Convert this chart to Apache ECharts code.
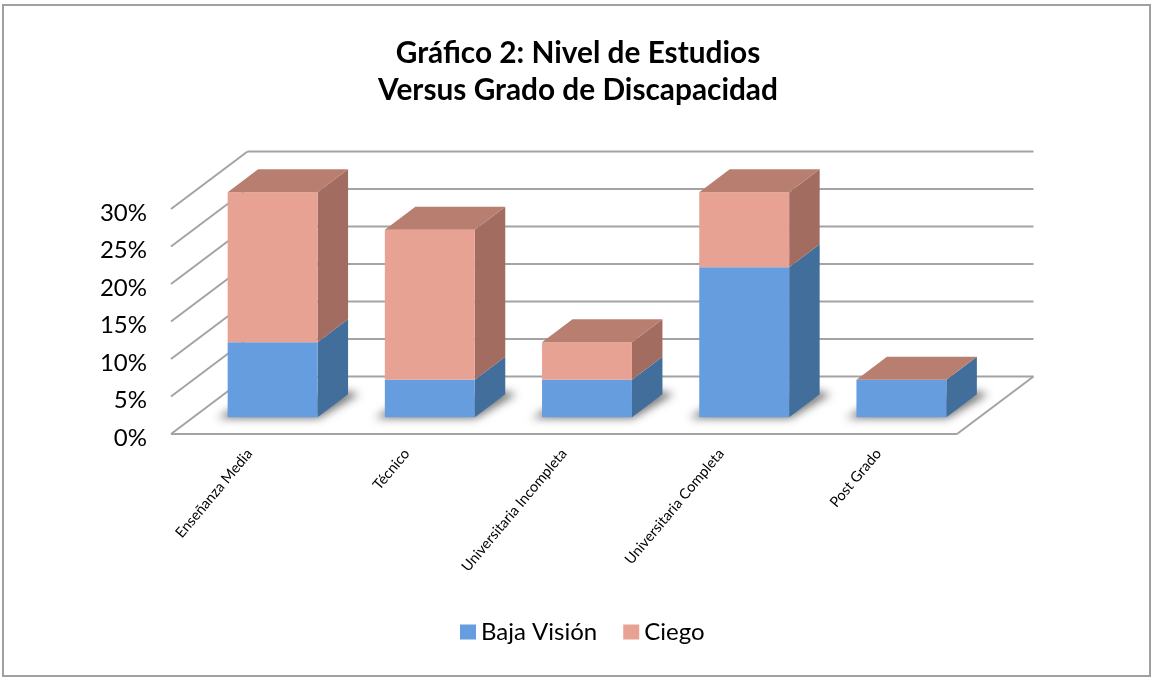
<!DOCTYPE html>
<html>
<head>
<meta charset="utf-8">
<style>html,body{margin:0;padding:0;background:#fff}#c{width:1151px;height:677px}</style>
<script src="https://cdn.jsdelivr.net/npm/echarts@6/dist/echarts.min.js"></script>
</head>
<body>
<div id="c"></div>
<script>
var categories = ['Enseñanza Media', 'Técnico', 'Universitaria Incompleta', 'Universitaria Completa', 'Post Grado'];
var bajaVision = [10, 5, 5, 20, 5];
var ciego = [20, 20, 5, 10, 0];
var yTicks = [0, 5, 10, 15, 20, 25, 30];

var WALL = [76.5, -57.5], DEPTH = [30.5, -23], SHIFT = [23, -16.7], BAR_FRAC = 0.572;
var LINE = '#a3a3a3';
var OFF = 3000;
function line(a, b) {
  return {type: 'line', shape: {x1: a[0], y1: a[1], x2: b[0], y2: b[1]}, style: {stroke: LINE, lineWidth: 2, fill: null}};
}
function add(p, d) { return [p[0] + d[0], p[1] + d[1]]; }
function poly(points, fill, extra) {
  var s = {fill: fill, stroke: null};
  if (extra) for (var k in extra) s[k] = extra[k];
  return {type: 'polygon', shape: {points: points}, style: s};
}
function wallItem(params, api) {
  var v = api.value(0);
  var n = categories.length;
  var left = api.coord([0, v]);
  var band = api.size([1, 0])[0];
  left[0] -= band / 2;
  var right = [left[0] + band * n, left[1]];
  var children = [line(left, add(left, WALL)), line(add(left, WALL), add(right, WALL))];
  if (v === 0) {
    children.push(line(left, right));
    children.push(line(right, add(right, WALL)));
  }
  return {type: 'group', children: children};
}
function shadowItem(params, api) {
  var base = api.coord([api.value(0), 0]);
  var w = api.size([1, 0])[0] * BAR_FRAC;
  var l = base[0] + SHIFT[0] - w / 2, r = l + w, y = base[1] + SHIFT[1];
  var pts = [[l - 10, y + 1], [r + 1, y + 1], [r + DEPTH[0] + 11, y + DEPTH[1]],
             [r + DEPTH[0], y + DEPTH[1] - 3], [l + 4, y - 8]];
  return poly(pts.map(function (p) { return [p[0] - OFF, p[1]]; }), '#000',
    {shadowBlur: 9, shadowColor: 'rgba(105,105,105,0.9)', shadowOffsetX: OFF, shadowOffsetY: 0});
}
function barItem(front, side, top) {
  return function (params, api) {
    var a = api.coord([api.value(0), api.value(1)]);
    var b = api.coord([api.value(0), api.value(2)]);
    var w = api.size([1, 0])[0] * BAR_FRAC;
    var l = a[0] + SHIFT[0] - w / 2, r = l + w;
    var y0 = a[1] + SHIFT[1], y1 = b[1] + SHIFT[1];
    var children = [];
    if (y0 - y1 > 0.01) {
      children.push(poly([[r, y0], [r + DEPTH[0], y0 + DEPTH[1]], [r + DEPTH[0], y1 + DEPTH[1]], [r, y1]], side));
      children.push(poly([[l, y0], [r, y0], [r, y1], [l, y1]], front));
    }
    if (top) {
      children.push(poly([[l, y1], [r, y1], [r + DEPTH[0], y1 + DEPTH[1]], [l + DEPTH[0], y1 + DEPTH[1]]], top));
    }
    return {type: 'group', children: children};
  };
}
var bajaRows = bajaVision.map(function (v, i) { return [i, 0, v]; });
var ciegoRows = ciego.map(function (v, i) { return [i, bajaVision[i], bajaVision[i] + v]; });

var chart = echarts.init(document.getElementById('c'), null, {renderer: 'canvas'});
chart.setOption({
  animation: false,
  backgroundColor: '#fff',
  graphic: [{type: 'rect', silent: true, shape: {x: 3, y: 5, width: 1147, height: 671},
    style: {fill: 'none', stroke: '#a0a0a0', lineWidth: 2}}],
  title: {
    text: 'Gráfico 2: Nivel de Estudios\nVersus Grado de Discapacidad',
    left: 573, top: 30, textAlign: 'center',
    textStyle: {fontFamily: 'Lato', fontWeight: 'bold', fontSize: 29.8, lineHeight: 37, color: '#000'}
  },
  legend: {
    left: 455, top: 615, itemWidth: 16, itemHeight: 15, itemGap: 26, icon: 'rect',
    data: ['Baja Visión', 'Ciego'],
    textStyle: {fontFamily: 'Lato', fontSize: 24, color: '#000'}
  },
  grid: {left: 171, top: 209, width: 786, height: 225, containLabel: false},
  xAxis: {
    type: 'category', data: categories,
    axisLine: {show: false}, axisTick: {show: false}, splitLine: {show: false},
    axisLabel: {interval: 0, rotate: 50, margin: 17, fontFamily: 'Lato', fontSize: 14.5, color: '#000'}
  },
  yAxis: {
    type: 'value', min: 0, max: 30, interval: 5,
    axisLine: {show: false}, axisTick: {show: false}, splitLine: {show: false},
    axisLabel: {margin: 24, fontFamily: 'Lato', fontSize: 24, color: '#000', verticalAlign: 'top', lineHeight: 8,
      formatter: '{value}%'}
  },
  series: [
    {type: 'custom', silent: true, z: 1, renderItem: wallItem, encode: {y: 0}, data: yTicks.map(function (t) { return [t]; })},
    {type: 'custom', silent: true, z: 2, renderItem: shadowItem, encode: {x: 0}, data: categories.map(function (c, i) { return [i]; })},
    {type: 'custom', name: 'Baja Visión', z: 3, renderItem: barItem('#659ddf', '#416e9a'),
      itemStyle: {color: '#659ddf'}, encode: {x: 0, y: [1, 2]}, data: bajaRows},
    {type: 'custom', name: 'Ciego', z: 3, renderItem: barItem('#e8a293', '#a26c61', '#b87f71'),
      itemStyle: {color: '#e8a293'}, encode: {x: 0, y: [1, 2]}, data: ciegoRows}
  ]
});
</script>
</body>
</html>
